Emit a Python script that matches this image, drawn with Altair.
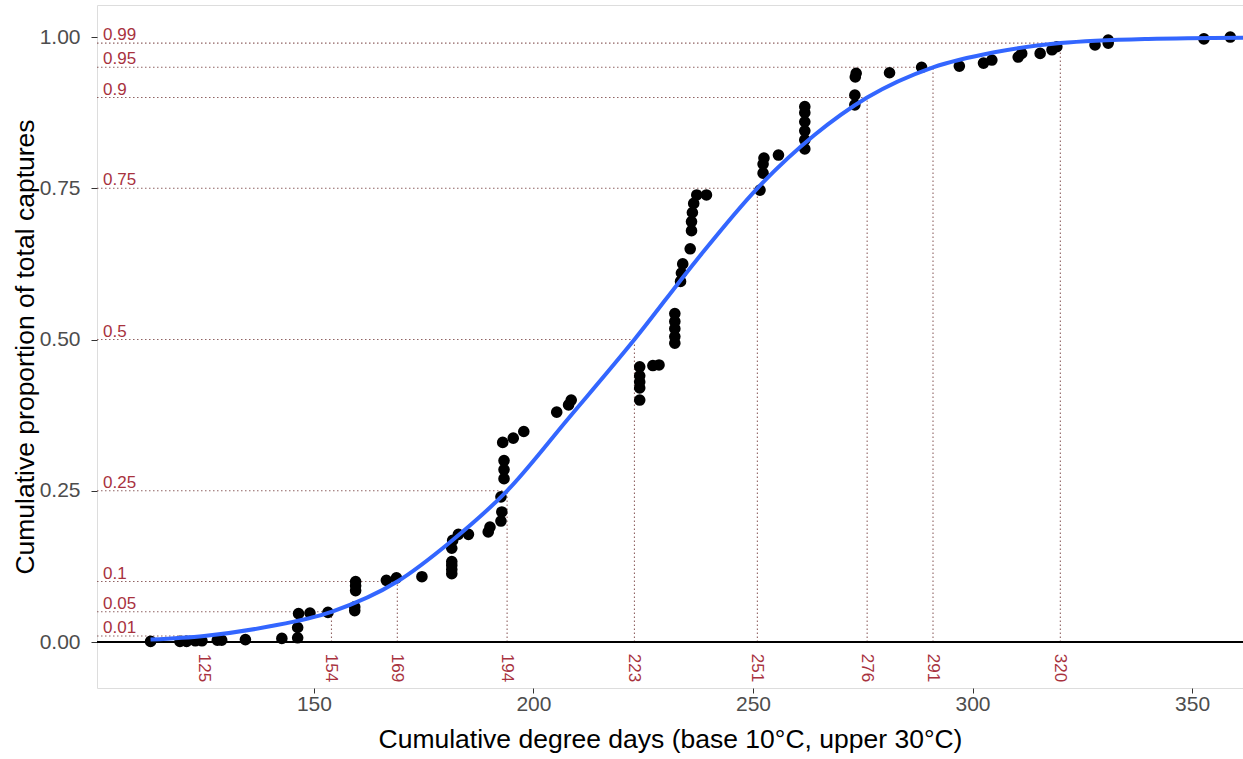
import altair as alt
import pandas as pd

# Observed cumulative captures: degree days vs. cumulative proportion
obs_dd = [112.8, 119.5, 121.0, 123.0, 124.5, 128.0, 129.0, 134.4, 142.7, 146.3,
          146.3, 146.5, 149.1, 153.2, 159.3, 159.3, 159.5, 159.5, 159.5, 166.5,
          168.8, 174.6, 181.4, 181.4, 181.4, 181.4, 181.4, 181.6, 182.9, 185.2,
          189.7, 190.1, 192.6, 192.8, 192.6, 193.3, 193.3, 193.3, 193.0, 195.4,
          197.8, 205.3, 208.0, 208.6, 224.2, 224.2, 224.2, 224.2, 224.2, 227.2,
          228.6, 232.2, 232.2, 232.2, 232.2, 232.2, 233.5, 233.7, 234.0, 235.7,
          236.0, 236.0, 236.2, 236.5, 237.2, 239.4, 251.6, 252.3, 252.3, 252.5,
          255.8, 261.8, 261.8, 261.8, 261.8, 261.8, 261.8, 273.2, 273.2, 273.3,
          273.5, 281.1, 288.4, 297.0, 302.5, 304.4, 310.4, 311.2, 315.4, 318.1,
          319.2, 327.9, 330.9, 330.9, 352.7, 358.7]
obs_prop = [0.001, 0.001, 0.001, 0.002, 0.002, 0.003, 0.003, 0.004, 0.006, 0.007,
            0.024, 0.047, 0.048, 0.049, 0.052, 0.058, 0.085, 0.093, 0.100, 0.102,
            0.106, 0.108, 0.113, 0.120, 0.127, 0.133, 0.155, 0.168, 0.178, 0.178,
            0.182, 0.190, 0.200, 0.215, 0.240, 0.270, 0.285, 0.300, 0.330, 0.337,
            0.348, 0.380, 0.392, 0.400, 0.400, 0.420, 0.430, 0.440, 0.455, 0.457,
            0.458, 0.494, 0.505, 0.518, 0.530, 0.543, 0.596, 0.610, 0.625, 0.650,
            0.680, 0.695, 0.710, 0.725, 0.739, 0.739, 0.747, 0.775, 0.790, 0.800,
            0.805, 0.815, 0.830, 0.845, 0.860, 0.875, 0.885, 0.888, 0.904, 0.934,
            0.940, 0.941, 0.950, 0.952, 0.957, 0.962, 0.967, 0.973, 0.973, 0.979,
            0.984, 0.987, 0.990, 0.995, 0.997, 1.000]

# Fitted cumulative curve
fit_dd = [112.8, 125, 140, 154, 169, 181, 194, 208, 223, 237, 251, 264, 276, 291,
          305, 320, 340, 361.6]
fit_prop = [0.004, 0.01, 0.026, 0.05, 0.10, 0.165, 0.25, 0.37, 0.50, 0.63, 0.75,
            0.838, 0.90, 0.95, 0.975, 0.99, 0.997, 0.999]

# Quantiles of the fitted curve
q_prop = [0.01, 0.05, 0.1, 0.25, 0.5, 0.75, 0.9, 0.95, 0.99]
q_dd = [125, 154, 169, 194, 223, 251, 276, 291, 320]
q_prop_text = ["0.01", "0.05", "0.1", "0.25", "0.5", "0.75", "0.9", "0.95", "0.99"]

X_MIN, X_MAX = 100.6, 361.6
Y_MIN, Y_MAX = -0.076, 1.053

obs = pd.DataFrame({"dd": obs_dd, "prop": obs_prop})
fit = pd.DataFrame({"dd": fit_dd, "prop": fit_prop})
q = pd.DataFrame({"dd": q_dd, "prop": q_prop, "label": q_prop_text,
                  "dd_text": [str(v) for v in q_dd],
                  "x0": [X_MIN] * len(q_dd), "y0": [0.0] * len(q_dd)})

FONT = "Liberation Sans"
LABEL_RED = "#a8323e"
GUIDE = "#7d4848"

xs = alt.Scale(domain=[X_MIN, X_MAX], nice=False, zero=False)
ys = alt.Scale(domain=[Y_MIN, Y_MAX], nice=False, zero=False)

x_axis = alt.Axis(values=[150, 200, 250, 300, 350], title="Cumulative degree days (base 10°C, upper 30°C)",
                  grid=False, tickSize=5, tickColor="#333333", domain=False,
                  labelFontSize=21, labelColor="#4d4d4d", labelPadding=0,
                  titleFontSize=26.5, titleFontWeight="normal", titleColor="#000000", titlePadding=12)
y_axis = alt.Axis(values=[0, 0.25, 0.5, 0.75, 1.0], format=".2f",
                  title="Cumulative proportion of total captures",
                  grid=False, tickSize=6, tickColor="#333333", domain=False,
                  labelFontSize=21, labelColor="#4d4d4d", labelPadding=11,
                  titleFontSize=26.5, titleFontWeight="normal", titleColor="#000000", titlePadding=0)

base_x = alt.X("dd:Q", scale=xs, axis=x_axis)
base_y = alt.Y("prop:Q", scale=ys, axis=y_axis)

# Horizontal dotted guides from the left edge to each quantile
h_guides = alt.Chart(q).mark_rule(color=GUIDE, strokeWidth=1.1, strokeDash=[1.5, 2.5], opacity=0.85).encode(
    x=alt.X("x0:Q", scale=xs, axis=x_axis), x2="dd:Q", y=alt.Y("prop:Q", scale=ys, axis=y_axis))

# Vertical dotted guides from zero up to each quantile
v_guides = alt.Chart(q).mark_rule(color=GUIDE, strokeWidth=1.1, strokeDash=[1.5, 2.5], opacity=0.85).encode(
    x=base_x, y=alt.Y("y0:Q", scale=ys, axis=y_axis), y2="prop:Q")

zero_line = alt.Chart(pd.DataFrame({"z": [0.0]})).mark_rule(color="#000000", strokeWidth=2).encode(
    y=alt.Y("z:Q", scale=ys, axis=y_axis))

points = alt.Chart(obs).mark_circle(color="#000000", opacity=1, size=135).encode(x=base_x, y=base_y)

curve = alt.Chart(fit).mark_line(color="#3366FF", strokeWidth=4, interpolate="monotone").encode(
    x=base_x, y=base_y)

prop_labels = alt.Chart(q).mark_text(color=LABEL_RED, fontSize=17, font=FONT, align="left",
                                     baseline="alphabetic", dy=-3).encode(
    x=alt.value(6), y=base_y, text="label:N")

dd_labels = alt.Chart(q).mark_text(color=LABEL_RED, fontSize=17, font=FONT, angle=90,
                                   align="center", baseline="middle").encode(
    x=base_x, y=alt.value(663), text="dd_text:N")

chart = alt.layer(h_guides, v_guides, zero_line, points, curve, prop_labels, dd_labels).properties(
    width=1146, height=683,
    autosize=alt.AutoSizeParams(type="none"),
    padding={"left": 97, "top": 5, "right": 0, "bottom": 71},
).configure_view(stroke="#333333", strokeWidth=1.5).configure_axis(
    labelFont=FONT, titleFont=FONT
).configure(background="#ffffff")

chart.save("out.html", embed_options={"renderer": "svg", "actions": False})
